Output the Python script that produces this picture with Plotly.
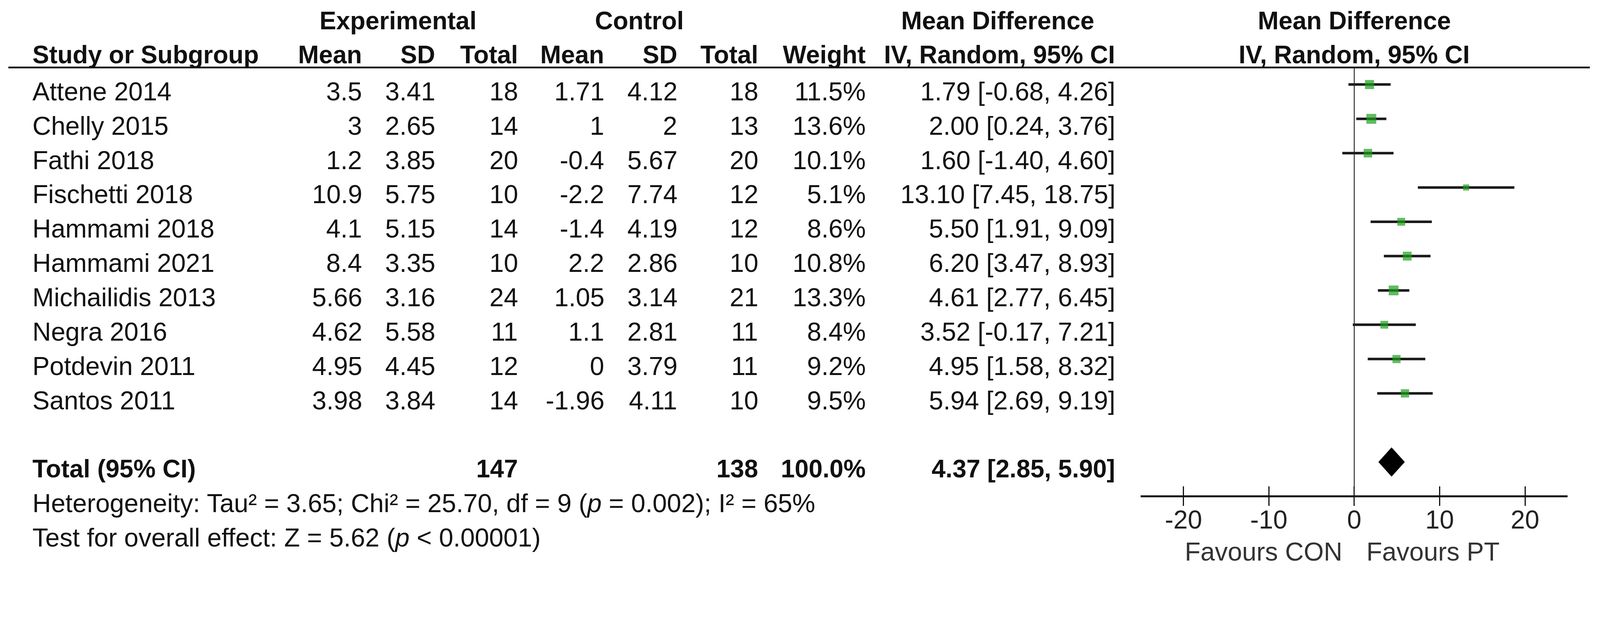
import plotly.graph_objects as go

# ---------------- data ----------------
studies = ["Attene 2014", "Chelly 2015", "Fathi 2018", "Fischetti 2018", "Hammami 2018",
           "Hammami 2021", "Michailidis 2013", "Negra 2016", "Potdevin 2011", "Santos 2011"]
exp_mean = [3.5, 3, 1.2, 10.9, 4.1, 8.4, 5.66, 4.62, 4.95, 3.98]
exp_sd = [3.41, 2.65, 3.85, 5.75, 5.15, 3.35, 3.16, 5.58, 4.45, 3.84]
exp_n = [18, 14, 20, 10, 14, 10, 24, 11, 12, 14]
ctl_mean = [1.71, 1, -0.4, -2.2, -1.4, 2.2, 1.05, 1.1, 0, -1.96]
ctl_sd = [4.12, 2, 5.67, 7.74, 4.19, 2.86, 3.14, 2.81, 3.79, 4.11]
ctl_n = [18, 13, 20, 12, 12, 10, 21, 11, 11, 10]
weight = [11.5, 13.6, 10.1, 5.1, 8.6, 10.8, 13.3, 8.4, 9.2, 9.5]
md = [1.79, 2.00, 1.60, 13.10, 5.50, 6.20, 4.61, 3.52, 4.95, 5.94]
md_lo = [-0.68, 0.24, -1.40, 7.45, 1.91, 3.47, 2.77, -0.17, 1.58, 2.69]
md_hi = [4.26, 3.76, 4.60, 18.75, 9.09, 8.93, 6.45, 7.21, 8.32, 9.19]
total_exp_n = 147
total_ctl_n = 138
total_weight = 100.0
total_md = 4.37
total_lo = 2.85
total_hi = 5.90
heterogeneity = "Heterogeneity: Tau² = 3.65; Chi² = 25.70, df = 9 (<i>p</i> = 0.002); I² = 65%"
overall = "Test for overall effect: Z = 5.62 (<i>p</i> < 0.00001)"
tick_vals = [-20, -10, 0, 10, 20]
favours_left = "Favours CON"
favours_right = "Favours PT"

# ---------------- layout helpers ----------------
# design is done in reference-picture pixels, then mapped to CSS pixels
K = 4096 / 4411          # picture px -> css px
BODY = 8                 # default page margin
FW, FH = 4080, 1453      # figure size in css px
ROW0_PX, ROW_PX = 233, 94.6   # reference pixel of first marker row and row pitch


def px(x):
    """reference x pixel -> paper fraction"""
    return (x * K - BODY) / FW


def rowy(p):
    """reference y pixel -> row units"""
    return (p - ROW0_PX) / ROW_PX


Y_TOP = rowy(BODY / K)
Y_BOT = rowy((FH + BODY) / K)
TXT_OFF = 0.2
FONT = "Liberation Sans, Arial, sans-serif"
FS = round(71 * K)
FSB = round(69 * K)
GREEN = "#1ea01e"
INK = "#111111"

fig = go.Figure()
annots = []


def txt(x, y, s, anchor="right", bold=False, color=INK, xref="paper"):
    annots.append(dict(x=x, y=y, xref=xref, yref="y", text=f"<b>{s}</b>" if bold else s,
                       showarrow=False, xanchor=anchor, yanchor="middle",
                       font=dict(family=FONT, size=FSB if bold else FS, color=color)))


# column edges (reference pixels)
C_NAME = 87
C_EM, C_ES, C_EN = 1000, 1202, 1430
C_CM, C_CS, C_CN = 1668, 1870, 2092
C_W, C_CI = 2389, 3077

# headers
h1 = rowy(57)
h2 = rowy(151)
txt(px(1097), h1, "Experimental", "center", True)
txt(px(1763), h1, "Control", "center", True)
txt(px(2750), h1, "Mean Difference", "center", True)
txt(0, h1, "Mean Difference", "center", True, xref="x")
txt(px(C_NAME), h2, "Study or Subgroup", "left", True)
for c, s in [(C_EM, "Mean"), (C_ES, "SD"), (C_EN, "Total"), (C_CM, "Mean"), (C_CS, "SD"),
             (C_CN, "Total"), (C_W, "Weight"), (C_CI, "IV, Random, 95% CI")]:
    txt(px(c), h2, s, "right", True)
txt(0, h2, "IV, Random, 95% CI", "center", True, xref="x")

# study rows
for i, name in enumerate(studies):
    y = i + TXT_OFF
    txt(px(C_NAME), y, name, "left")
    txt(px(C_EM), y, f"{exp_mean[i]:g}")
    txt(px(C_ES), y, f"{exp_sd[i]:g}")
    txt(px(C_EN), y, f"{exp_n[i]}")
    txt(px(C_CM), y, f"{ctl_mean[i]:g}")
    txt(px(C_CS), y, f"{ctl_sd[i]:g}")
    txt(px(C_CN), y, f"{ctl_n[i]}")
    txt(px(C_W), y, f"{weight[i]:.1f}%")
    txt(px(C_CI), y, f"{md[i]:.2f} [{md_lo[i]:.2f}, {md_hi[i]:.2f}]")

# total row
tot_row = len(studies) + 1
yt = tot_row + TXT_OFF
txt(px(C_NAME), yt, "Total (95% CI)", "left", True)
txt(px(C_EN), yt, f"{total_exp_n}", "right", True)
txt(px(C_CN), yt, f"{total_ctl_n}", "right", True)
txt(px(C_W), yt, f"{total_weight:.1f}%", "right", True)
txt(px(C_CI), yt, f"{total_md:.2f} [{total_lo:.2f}, {total_hi:.2f}]", "right", True)
txt(px(C_NAME), tot_row + 1 + TXT_OFF, heterogeneity, "left")
txt(px(C_NAME), tot_row + 2 + TXT_OFF, overall, "left")

# favours labels
yf = rowy(1521)
txt(px(3702), yf, favours_left, "right", color="#333333")
txt(px(3765), yf, favours_right, "left", color="#333333")

# CI lines
for i in range(len(studies)):
    fig.add_trace(go.Scatter(x=[md_lo[i], md_hi[i]], y=[i, i], mode="lines",
                             line=dict(color="#1a1a1a", width=7 * K), showlegend=False,
                             hoverinfo="skip"))
# squares (area proportional to weight)
fig.add_trace(go.Scatter(x=md, y=list(range(len(studies))), mode="markers",
                         marker=dict(symbol="square", color=GREEN,
                                     size=[7.4 * K * w ** 0.5 for w in weight],
                                     line=dict(width=0)),
                         showlegend=False))
# pooled diamond
dh = 0.42
fig.add_trace(go.Scatter(x=[total_lo, total_md, total_hi, total_md, total_lo],
                         y=[tot_row, tot_row - dh, tot_row, tot_row + dh, tot_row],
                         mode="lines", fill="toself", fillcolor="black",
                         line=dict(color="black", width=1), showlegend=False))
# anchor trace for the overlay axis
fig.add_trace(go.Scatter(x=[0], y=[0], xaxis="x2", mode="markers",
                         marker=dict(opacity=0), showlegend=False, hoverinfo="skip"))

axis_row = tot_row + 1
shapes = [
    dict(type="line", xref="paper", yref="y", x0=px(23), x1=px(4383), y0=rowy(186), y1=rowy(186),
         line=dict(color="#111111", width=5 * K)),
    dict(type="line", xref="x", yref="y", x0=0, x1=0, y0=rowy(186), y1=rowy(1391),
         line=dict(color="#222222", width=2.5 * K)),
]

dom = [px(3145), px(4322)]
axpos = 1 - ((ROW0_PX + ROW_PX * axis_row) * K - BODY) / FH

fig.update_layout(
    width=FW, height=FH, margin=dict(l=0, r=0, t=0, b=0, autoexpand=False),
    paper_bgcolor="white", plot_bgcolor="white",
    annotations=annots, shapes=shapes,
    xaxis=dict(domain=dom, range=[-25, 25], anchor="free", position=axpos,
               showgrid=False, zeroline=False, showline=True, linecolor="#111111",
               linewidth=5 * K, ticks="outside", ticklen=round(24 * K), tickwidth=3 * K,
               tickcolor="#111111", tickvals=tick_vals, showticklabels=False),
    xaxis2=dict(domain=dom, range=[-25, 25], overlaying="x", anchor="free", position=axpos,
                side="bottom", showgrid=False, zeroline=False, showline=False,
                ticks="inside", ticklen=round(27 * K), tickwidth=3 * K, tickcolor="#111111",
                tickvals=tick_vals, ticktext=[str(t) for t in tick_vals],
                tickfont=dict(family=FONT, size=FS, color="#222222"), ticklabelstandoff=16),
    yaxis=dict(domain=[0, 1], range=[Y_BOT, Y_TOP], visible=False, showgrid=False,
               zeroline=False),
)

fig.write_html("out.html")
